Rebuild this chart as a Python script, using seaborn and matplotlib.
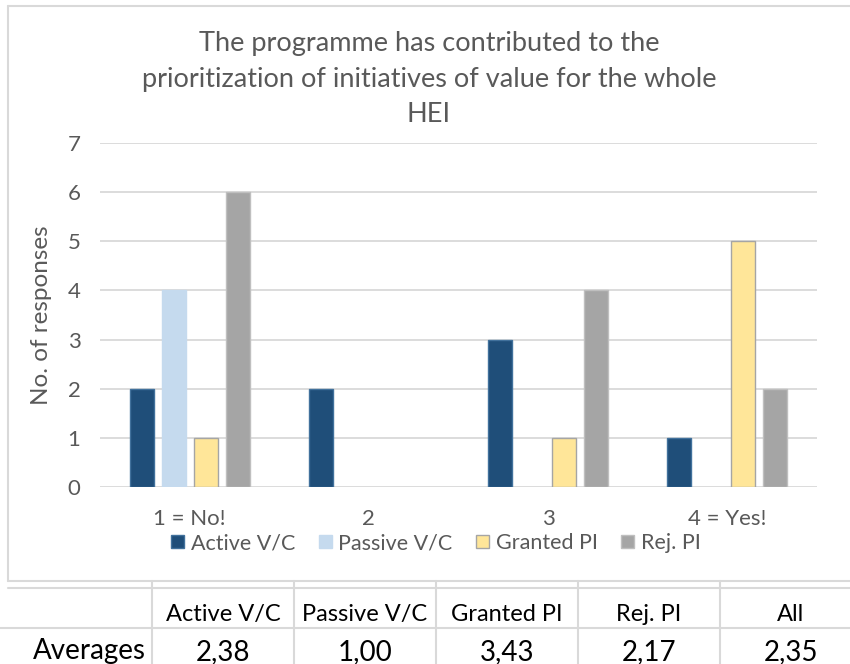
import numpy as np
import pandas as pd
import matplotlib
matplotlib.use("Agg")
import matplotlib.pyplot as plt
import seaborn as sns
from matplotlib.lines import Line2D

# data
ratings = ["1 = No!", "2", "3", "4 = Yes!"]
groups = ["Active V/C", "Passive V/C", "Granted PI", "Rej. PI"]
active_vc = [2, 2, 3, 1]
passive_vc = [4, 0, 0, 0]
granted_pi = [1, 0, 1, 5]
rej_pi = [6, 0, 4, 2]

table_cols = ["Active V/C", "Passive V/C", "Granted PI", "Rej. PI", "All"]
table_row = "Averages"
averages = ["2,38", "1,00", "3,43", "2,17", "2,35"]

title_lines = ["The programme has contributed to the",
               "prioritization of initiatives of value for the whole",
               "HEI"]

colors = ["#1f4e79", "#c5daee", "#ffe699", "#a5a5a5"]
edges = ["#41719c", "#c5daee", "#a5a5a5", "#bfbfbf"]
text_grey = "#595959"
line_grey = "#d9d9d9"

rows = []
for g, vals in zip(groups, [active_vc, passive_vc, granted_pi, rej_pi]):
    for r, v in zip(ratings, vals):
        rows.append({"rating": r, "group": g, "count": v})
df = pd.DataFrame(rows)

sns.set_theme(style="white")
plt.rcParams["font.family"] = ["Lato", "DejaVu Sans"]

W, H = 850, 664
fx = lambda x: x / W
fy = lambda y: 1 - y / H

fig = plt.figure(figsize=(8.5, 6.64), dpi=100)
ax = fig.add_axes([fx(100), fy(487), 717 / W, 344 / H])

sns.barplot(data=df, x="rating", y="count", hue="group", order=ratings,
            hue_order=groups, palette=colors, width=0.715, gap=0.25,
            saturation=1, legend=False, ax=ax)

for cont, ec in zip(ax.containers, edges):
    for p in cont.patches:
        if p.get_height() > 0:
            p.set_edgecolor(ec)
            p.set_linewidth(1.0)
        else:
            p.set_edgecolor("none")

ax.set_ylim(0, 7)
ax.set_yticks(range(8))
ax.yaxis.grid(True, color=line_grey, linewidth=1.3)
ax.set_axisbelow(True)
sns.despine(ax=ax, left=True, bottom=True, top=True, right=True)
ax.tick_params(axis="both", length=0, labelsize=16, labelcolor=text_grey)
ax.tick_params(axis="y", pad=14)
ax.tick_params(axis="x", pad=16)
ax.set_xlabel("")
ax.set_ylabel("No. of responses", fontsize=17.5, color=text_grey, labelpad=11)

# legend below the axis labels
fig.legend(ax.containers, groups, loc="center",
           bbox_to_anchor=(fx(436), fy(543)), ncol=4, frameon=False,
           fontsize=15.5, labelcolor=text_grey, handlelength=0.6,
           handleheight=0.6, handletextpad=0.3, columnspacing=1.1)

# title
for i, line in enumerate(title_lines):
    fig.text(fx(429), fy(43 + 36 * i), line, ha="center", va="center",
             fontsize=19.5, color=text_grey)

# chart frame
def hline(y, x0, x1):
    fig.add_artist(Line2D([fx(x0), fx(x1)], [fy(y), fy(y)], color=line_grey,
                          linewidth=1.5, transform=fig.transFigure))

def vline(x, y0, y1):
    fig.add_artist(Line2D([fx(x), fx(x)], [fy(y0), fy(y1)], color=line_grey,
                          linewidth=1.5, transform=fig.transFigure))

hline(6, 8, 850)
vline(8, 6, 581)

# averages table
hline(581, 8, 850)
hline(588, 8, 850)
hline(628, 0, 850)
col_edges = [152, 294, 436, 578, 720]
for x in col_edges:
    vline(x, 581, 664)
for i, (c, v) in enumerate(zip(table_cols, averages)):
    cx = col_edges[i] + 71
    fig.text(fx(cx), fy(621), c, ha="center", va="baseline",
             fontsize=17, color="black")
    fig.text(fx(cx), fy(660), v, ha="center", va="baseline",
             fontsize=20, color="black")
fig.text(fx(89), fy(659), table_row, ha="center", va="baseline",
         fontsize=20, color="black")

fig.savefig("out.png", dpi=100, facecolor="white")
